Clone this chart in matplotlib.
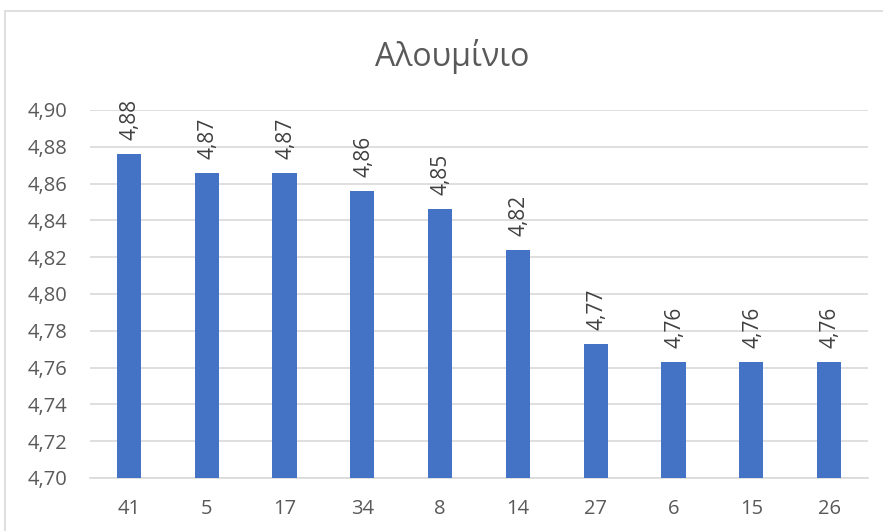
import matplotlib
matplotlib.use("Agg")
import matplotlib.pyplot as plt
from matplotlib.patches import Rectangle
from matplotlib.ticker import FuncFormatter, MultipleLocator

categories = ["41", "5", "17", "34", "8", "14", "27", "6", "15", "26"]
values = [4.876, 4.866, 4.866, 4.856, 4.846, 4.824, 4.773, 4.763, 4.763, 4.763]
title = "Αλουμίνιο"

bar_color = "#4472C4"
grid_color = "#D9D9D9"
text_color = "#595959"
label_color = "#404040"

plt.rcParams["font.family"] = ["Open Sans", "DejaVu Sans"]

fig = plt.figure(figsize=(8.83, 5.31), dpi=100)
W, H = 883, 531
ax = fig.add_axes([90 / W, 1 - 478 / H, (868 - 90) / W, (478 - 110) / H])

# outer chart frame
fig.patches.append(Rectangle((5 / W, -0.1), 1.2, 1 - 11 / H + 0.1,
                             transform=fig.transFigure, fill=False,
                             edgecolor=grid_color, linewidth=1.2))

x = list(range(len(categories)))
bars = ax.bar(x, values, width=0.31, color=bar_color, zorder=3)

ax.set_ylim(4.70, 4.90)
ax.set_xlim(-0.5, len(categories) - 0.5)
ax.yaxis.set_major_locator(MultipleLocator(0.02))
ax.yaxis.set_major_formatter(FuncFormatter(lambda v, p: f"{v:.2f}".replace(".", ",")))
ax.set_xticks(x)
ax.set_xticklabels(categories)

ax.grid(axis="y", color=grid_color, linewidth=1.2, zorder=0)
for s in ["top", "right", "left"]:
    ax.spines[s].set_visible(False)
ax.spines["bottom"].set_color(grid_color)
ax.spines["bottom"].set_linewidth(1.2)
ax.tick_params(axis="both", length=0, labelsize=14.5, colors=text_color)
ax.tick_params(axis="x", pad=15)
ax.tick_params(axis="y", pad=16)

for xi, v in zip(x, values):
    ax.annotate(f"{v:.2f}".replace(".", ","), (xi, v), xytext=(1, 10),
                textcoords="offset points", rotation=90, ha="center", va="bottom",
                fontsize=15, color=label_color)

fig.text(452 / W, 1 - 57 / H, title, ha="center", va="center",
         fontsize=23, color=text_color)

fig.savefig("out.png", dpi=100)
